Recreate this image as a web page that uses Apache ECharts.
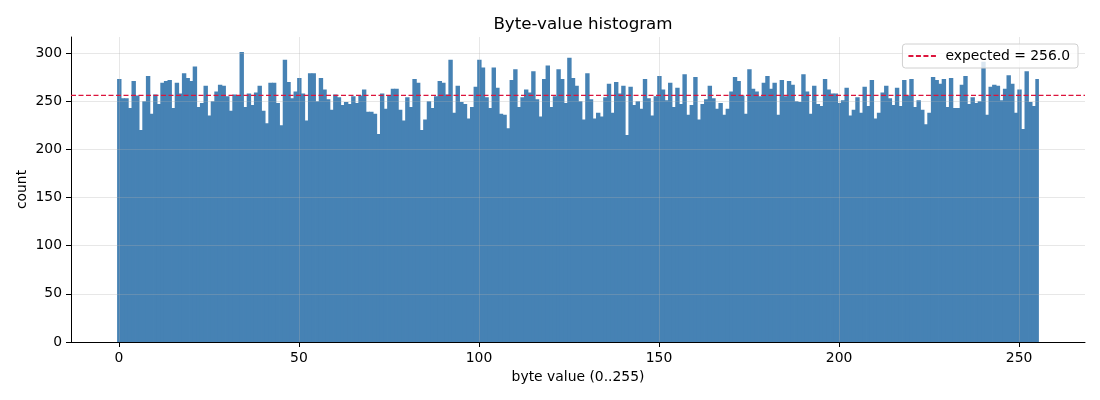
<!DOCTYPE html>
<html>
<head>
<meta charset="utf-8">
<script src="https://cdn.jsdelivr.net/npm/echarts@6/dist/echarts.min.js"></script>
<style>html,body{margin:0;padding:0;background:#fff}#c{width:1100px;height:400px}</style>
</head>
<body>
<div id="c"></div>
<script>
const byteValues = Array.from({length: 256}, (_, i) => i);
const counts = [
273,253,253,243,271,256,220,250,276,237,257,247,269,271,272,243,
269,258,279,274,271,286,244,248,266,235,250,260,267,266,255,240,
257,256,301,244,258,246,259,266,240,227,269,269,248,225,293,270,
253,260,274,258,230,279,279,250,274,262,252,241,257,254,246,249,
247,255,248,256,262,239,239,237,216,258,242,256,263,263,241,230,
254,244,273,269,220,231,250,243,255,271,269,257,293,238,266,249,
247,232,244,265,293,285,254,243,285,264,237,236,222,272,283,244,
254,262,259,281,252,234,273,287,244,255,283,273,248,295,274,266,
250,231,279,252,232,238,234,254,268,238,270,258,266,215,265,246,
250,242,273,253,235,255,276,262,251,269,244,264,247,278,236,246,
275,231,247,252,266,253,242,248,236,242,260,275,271,256,237,283,
263,260,255,269,276,263,269,236,272,255,271,267,250,249,278,260,
237,266,247,245,273,262,258,258,248,251,264,235,241,254,238,265,
245,272,232,238,259,266,253,246,264,245,272,256,273,244,251,241,
226,238,275,272,268,273,244,274,243,243,267,276,247,254,248,250,
291,236,265,267,266,251,263,277,268,238,262,221,281,249,245,273
];
const expected = 256.0;
const xTicks = [0, 50, 100, 150, 200, 250];
const yTicks = [0, 50, 100, 150, 200, 250, 300];
const xRange = [-13.3, 268.3];
const yRange = [0, 316.6];

const FONT = 'DejaVu Sans';
const chart = echarts.init(document.getElementById('c'), null, {renderer: 'canvas'});
const gridLine = {show: true, lineStyle: {color: 'rgba(176,176,176,0.3)', width: 1}};
const legendName = 'expected = ' + expected.toFixed(1);
chart.setOption({
  animation: false,
  backgroundColor: '#fff',
  textStyle: {fontFamily: FONT},
  title: {
    text: 'Byte-value histogram',
    left: 578, top: 11, textAlign: 'center',
    textStyle: {fontFamily: FONT, fontSize: 16.7, fontWeight: 'normal', color: '#000'}
  },
  legend: {
    data: [{name: legendName, itemStyle: {opacity: 0}}],
    right: 22, top: 44,
    padding: [5, 8, 5, 5],
    itemWidth: 28, itemHeight: 10, itemGap: 8,
    borderColor: '#d0d0d0', borderWidth: 1, borderRadius: 3,
    backgroundColor: 'rgba(255,255,255,0.8)',
    textStyle: {fontFamily: FONT, fontSize: 13.9, color: '#000', padding: [0, 0, 0, 4]}
  },
  grid: {left: 71, right: 15, top: 37, bottom: 58, containLabel: false},
  xAxis: {
    type: 'value', min: xRange[0], max: xRange[1], z: 3,
    name: 'byte value (0..255)', nameLocation: 'middle', nameGap: 28,
    nameTextStyle: {fontFamily: FONT, fontSize: 13.9, color: '#000'},
    axisLine: {show: true, onZero: false, lineStyle: {color: '#000', width: 1}},
    axisTick: {show: true, length: 5, lineStyle: {color: '#000'}, customValues: xTicks},
    axisLabel: {customValues: xTicks, margin: 9, fontFamily: FONT, fontSize: 13.9, color: '#000'},
    splitLine: gridLine
  },
  yAxis: {
    type: 'value', min: yRange[0], max: yRange[1], z: 3,
    name: 'count', nameLocation: 'middle', nameGap: 42, nameRotate: 90,
    nameMoveOverlap: false,
    nameTextStyle: {fontFamily: FONT, fontSize: 13.9, color: '#000'},
    axisLine: {show: true, onZero: false, lineStyle: {color: '#000', width: 1}},
    axisTick: {show: true, length: 5, lineStyle: {color: '#000'}, customValues: yTicks},
    axisLabel: {customValues: yTicks, margin: 9, fontFamily: FONT, fontSize: 13.9, color: '#000'},
    splitLine: gridLine
  },
  series: [
    {
      type: 'custom', name: 'counts', z: 1,
      data: counts.map((v, i) => [byteValues[i], v]),
      renderItem: function (params, api) {
        const k = api.value(0), v = api.value(1);
        const p0 = api.coord([k - 0.5, v]);
        const p1 = api.coord([k + 0.5, 0]);
        const last = k === byteValues[byteValues.length - 1];
        return {
          type: 'rect',
          shape: {x: p0[0], y: p0[1], width: p1[0] - p0[0] + (last ? 0 : 0.8), height: p1[1] - p0[1]},
          style: {fill: '#4682b4'}
        };
      }
    },
    {
      type: 'line', name: legendName, z: 10,
      data: [[xRange[0], expected], [xRange[1], expected]],
      symbol: 'none', showSymbol: false, silent: true,
      lineStyle: {color: '#dc143c', width: 1.2, type: [5, 2.5]},
      itemStyle: {color: '#dc143c'}
    }
  ]
});
</script>
</body>
</html>
